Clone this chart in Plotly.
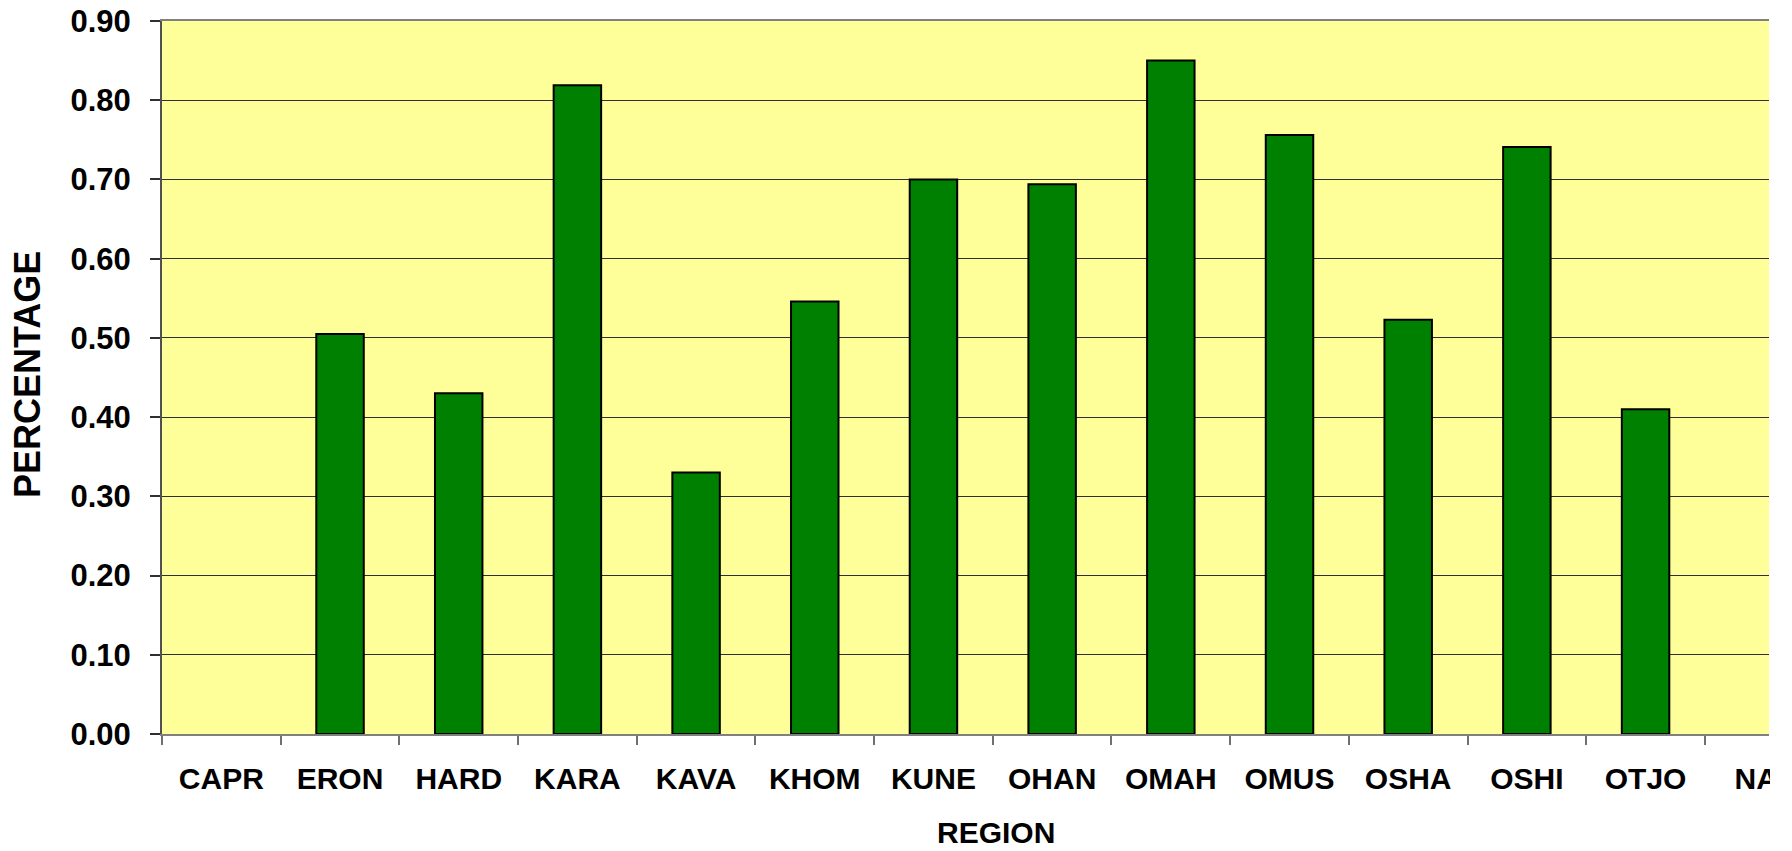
import plotly.graph_objects as go

regions = ["CAPR", "ERON", "HARD", "KARA", "KAVA", "KHOM", "KUNE",
           "OHAN", "OMAH", "OMUS", "OSHA", "OSHI", "OTJO", "NAT"]
percentage = [None, 0.505, 0.430, 0.819, 0.330, 0.546, 0.700,
              0.694, 0.850, 0.756, 0.523, 0.741, 0.410, None]
y_ticks = [0.0, 0.1, 0.2, 0.3, 0.4, 0.5, 0.6, 0.7, 0.8, 0.9]

W, H = 1792, 851
L, R, T, B = 162, 1769, 20.7, 734.3

FONT = "Arial, Liberation Sans, sans-serif"

fig = go.Figure()
fig.add_trace(go.Bar(
    x=regions, y=percentage, width=0.40,
    marker=dict(color="#008000", line=dict(color="black", width=2)),
    hoverinfo="x+y",
))

fig.update_layout(
    width=W, height=H,
    margin=dict(l=L, r=W - R, t=T, b=H - B, pad=0, autoexpand=False),
    paper_bgcolor="white", plot_bgcolor="#FFFF99",
    showlegend=False,
    font=dict(family=FONT, size=30, color="black", weight="bold"),
    bargap=0.6,
)

fig.update_xaxes(
    type="category", categoryorder="array", categoryarray=regions,
    range=[-0.5, 13.04], automargin=False,
    tickson="boundaries", ticks="outside", ticklen=9, tickwidth=1.5, tickcolor="#707070",
    showline=True, linecolor="#808080", linewidth=2, mirror=True,
    showgrid=False, zeroline=False,
    tickfont=dict(family=FONT, size=30, color="black", weight="bold"),
    ticklabelstandoff=17,
)
fig.update_yaxes(
    range=[0, 0.9], tickvals=y_ticks, tickformat=".2f", automargin=False,
    ticks="outside", ticklen=10, tickwidth=1.5, tickcolor="#303030",
    showline=True, linecolor="#505050", linewidth=2,
    showgrid=True, gridcolor="#303030", gridwidth=1,
    zeroline=False,
    tickfont=dict(family=FONT, size=31, color="black", weight="bold"),
    ticklabelstandoff=13,
)

# axis titles
fig.add_annotation(
    text="REGION", xref="paper", yref="paper",
    x=(996 - L) / (R - L), y=-(833 - B) / (B - T),
    xanchor="center", yanchor="middle", showarrow=False, borderpad=0,
    font=dict(family=FONT, size=30, color="black", weight="bold"),
)
fig.add_annotation(
    text="PERCENTAGE", xref="paper", yref="paper",
    x=(27 - L) / (R - L), y=(B - 375) / (B - T),
    xanchor="center", yanchor="middle", showarrow=False, textangle=-90, borderpad=0,
    font=dict(family=FONT, size=36, color="black", weight="bold"),
)

# the original chart is clipped at the right edge of the plot area
fig.add_shape(
    type="rect", xref="paper", yref="paper", layer="above",
    x0=1.0 + 1.0 / (R - L), x1=1.2, y0=-0.3, y1=1.1,
    fillcolor="white", line=dict(width=0),
)

fig.write_html("out.html", config={"displayModeBar": False},
               post_script="document.body.style.margin='0';")
